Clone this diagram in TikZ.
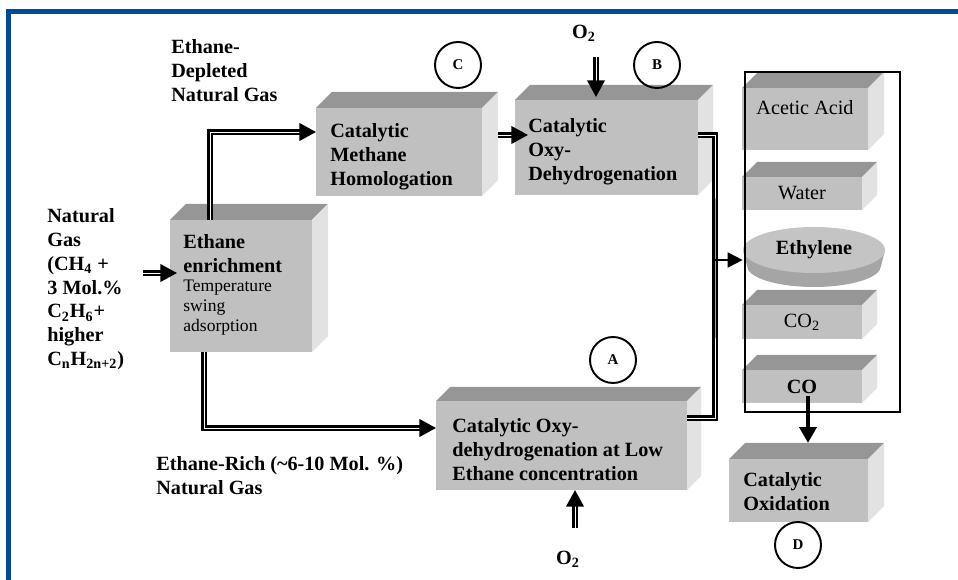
\documentclass[tikz,border=0pt]{standalone}
\usepackage{fontspec}
\setmainfont{Liberation Serif}
\usepackage{xcolor}
\definecolor{frameblue}{RGB}{0,74,150}
\definecolor{cubefront}{RGB}{192,192,192}
\definecolor{cubetop}{RGB}{150,150,150}
\definecolor{cubeside}{RGB}{226,226,226}
\definecolor{discside}{RGB}{165,165,165}
\definecolor{disctop}{RGB}{196,196,196}
\usepackage{tikz}
\usetikzlibrary{arrows.meta, positioning, shapes.geometric, calc}

% top and right faces of a box node (#1 = node, #2 = depth)
\newcommand{\cubesides}[2]{%
  \fill[cubetop] (#1.north west) -- ++(#2,-#2) -- ([shift={(#2,-#2)}]#1.north east) -- (#1.north east) -- cycle;
  \fill[cubeside] (#1.north east) -- ++(#2,-#2) -- ([shift={(#2,-#2)}]#1.south east) -- (#1.south east) -- cycle;}

\tikzset{
  stage/.style={fill=cubefront, inner sep=0pt, outer sep=0pt},
  lbl/.style={font=\bfseries\fontsize{11.5}{13.6}\selectfont, align=left, inner sep=0pt, anchor=north west},
  subtxt/.style={font=\fontsize{10}{11.3}\selectfont, align=left, inner sep=0pt, anchor=north west},
  prod/.style={font=\fontsize{11.5}{13.6}\selectfont},
  letter/.style={circle, draw, line width=1.1pt, minimum size=9.2mm, inner sep=0pt, font=\bfseries\fontsize{8.5}{9}\selectfont},
  pipe/.style={double, double distance=0.55pt, line width=1.35pt},
  feedarrow/.style={pipe, -{Triangle[length=9.5pt,width=10pt]}},
}

\begin{document}
\begin{tikzpicture}[x=0.2mm, y=-0.2mm]
\useasboundingbox (0,0) rectangle (958,580);

% --- Blue frame ---
\draw[frameblue, line width=2.8pt] (8.5,580) -- (8.5,11.5) -- (958,11.5);

% --- Ethane enrichment ---
\node[stage, minimum width=28.4mm, minimum height=26.4mm] (ethane) at (241,286) {};
\cubesides{ethane}{16}
\node[lbl] (ethanetitle) at ([shift={(13,14)}]ethane.north west) {Ethane\\enrichment};
\node[subtxt] (ethanesub) at ([shift={(13,60)}]ethane.north west) {Temperature\\swing\\adsorption};

% --- Methane homologation (C) ---
\node[stage, minimum width=33.2mm, minimum height=17.6mm] (methane) at (399,152) {};
\cubesides{methane}{16}
\node[lbl] (methanetxt) at ([shift={(14,15)}]methane.north west) {Catalytic\\Methane\\Homologation};

% --- Oxy-dehydrogenation (B) ---
\node[stage, minimum width=36.6mm, minimum height=19mm] (oxy) at (606.5,147.5) {};
\cubesides{oxy}{15}
\node[lbl] (oxytxt) at ([shift={(13,18)}]oxy.north west) {Catalytic\\Oxy-\\Dehydrogenation};

% --- Low ethane ODH (A) ---
\node[stage, minimum width=50.2mm, minimum height=17.8mm] (low) at (561.5,445.5) {};
\cubesides{low}{14}
\node[lbl] (lowtxt) at ([shift={(16,17)}]low.north west) {Catalytic Oxy-\\dehydrogenation at Low\\Ethane concentration};

% --- Catalytic oxidation (D) ---
\node[stage, minimum width=27.8mm, minimum height=12.6mm] (oxid) at (798.5,490.5) {};
\cubesides{oxid}{16}
\node[lbl] (oxidtxt) at ([shift={(14,13)}]oxid.north west) {Catalytic\\Oxidation};

% --- Products ---
\node[stage, minimum width=25.2mm, minimum height=12.4mm] (acetic) at (805,119) {};
\cubesides{acetic}{16}
\node[prod, inner sep=0pt] (acetictxt) at ([shift={(0,20)}]acetic.north) {Acetic Acid};
\node[stage, prod, minimum width=24mm, minimum height=6.6mm] (water) at (802,193.5) {Water};
\cubesides{water}{15}

\fill[discside] (743,250) -- (747,266) -- (881,266) -- (885,250) -- cycle;
\fill[discside] (814,266) ellipse [x radius=67, y radius=21];
\node[ellipse, fill=disctop, minimum width=28.4mm, minimum height=9.2mm, inner sep=0pt,
      font=\bfseries\fontsize{11.5}{13.6}\selectfont] (ethylene) at (814,250) {Ethylene};

\node[stage, prod, minimum width=24mm, minimum height=6.8mm] (co2) at (802,322) {CO\textsubscript{2}};
\cubesides{co2}{15}
\node[stage, prod, minimum width=24mm, minimum height=6.6mm] (co) at (802,386.5) {\textbf{CO}};
\cubesides{co}{15}

\draw[line width=0.6pt] (745,72) rectangle (900,412);

% --- Stream labels ---
\node[lbl] (depleted) at (171,39) {Ethane-\\Depleted\\Natural Gas};
\node[lbl] (feed) at (47,208) {Natural\\Gas\\(CH\textsubscript{4} +\\3 Mol.\%\\C\textsubscript{2}H\textsubscript{6}+\\higher\\C\textsubscript{n}H\textsubscript{2n+2})};
\node[lbl] (rich) at (156,456) {Ethane-Rich (\textasciitilde6-10 Mol. \%)\\Natural Gas};
\node[lbl, anchor=center] (otop) at (584,33) {O\textsubscript{2}};
\node[lbl, anchor=center] (obot) at (568,559) {O\textsubscript{2}};

% --- Route letters ---
\node[letter] (tagC) at (458,65) {C};
\node[letter] (tagB) at (657,65) {B};
\node[letter] (tagA) at (613,360) {A};
\node[letter] (tagD) at (798,545) {D};

% --- Connectors ---
\coordinate (feedout) at (143,273);
\draw[feedarrow] (feedout) -- ($(feedout -| ethane.west)+(7,0)$);
\draw[feedarrow] ([xshift=-6.2mm]ethane.north) |- ([yshift=4mm]methane.west);
\draw[feedarrow] ([xshift=-7.4mm]ethane.south) |- ([yshift=3.5mm]low.west);

\coordinate (mo) at ([shift={(16,-17)}]methane.east);
\draw[feedarrow] (mo) -- ($(mo -| oxy.west)+(13,0)$);

% oxygen feeds
\coordinate (oxyin) at ([shift={(-10.5,-3)}]oxy.north);
\draw[feedarrow] (oxyin) ++(0,-40) -- (oxyin);
\coordinate (lowin) at ([xshift=2.7mm]low.south);
\draw[feedarrow] (lowin) ++(0,38) -- (lowin);

% product collector
\coordinate (bus) at (715,260);
\draw[pipe] ([yshift=2.5mm]oxy.east) -| (bus) |- ([yshift=5.5mm]low.east);
\coordinate (ethin) at ([yshift=-2mm]ethylene.west);
\draw[line width=1.1pt, -{Triangle[length=8.5pt,width=8.5pt]}] (ethin -| bus) -- (ethin);

\coordinate (coout) at ([shift={(6,10)}]co.center);
\draw[line width=2.6pt, -{Triangle[length=9pt,width=9.5pt]}] (coout) -- ($(coout |- oxid.north)+(0,-16)$);

\end{tikzpicture}
\end{document}
